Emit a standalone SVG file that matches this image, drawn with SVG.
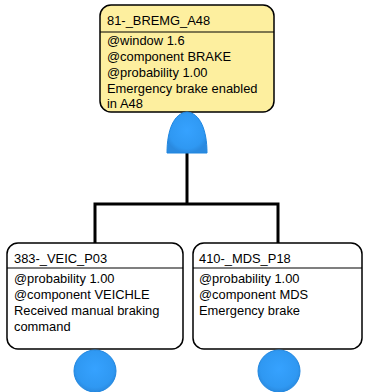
<svg xmlns="http://www.w3.org/2000/svg" width="365" height="392" viewBox="0 0 365 392">
<style>
.box{stroke:#000;stroke-width:1.5}
.sep{stroke:#000;stroke-width:1.2}
.t{font-family:"Liberation Sans",Arial,sans-serif;font-size:12.9px;fill:#000}
.wire{fill:none;stroke:#000;stroke-width:3}
.blue{fill:url(#bg);stroke:#1f86e0;stroke-width:1}
</style>
<defs>
<radialGradient id="bg" cx="50%" cy="45%" r="55%">
<stop offset="0" stop-color="#36a2ff"/>
<stop offset="0.8" stop-color="#2f98f2"/>
<stop offset="1" stop-color="#2a8ae0"/>
</radialGradient>
</defs>
<g id="connectors">
<polyline class="wire" points="187,153 187,204"/>
<polyline class="wire" points="95,243 95,204 278,204 278,243"/>
</g>
<g id="n81">
<rect class="box" x="100" y="5" width="174" height="107" rx="11" fill="#fdef9f"/>
<line class="sep" x1="100" y1="32" x2="274" y2="32"/>
<text class="t" x="107" y="25">81-_BREMG_A48</text>
<text class="t" x="107" y="45">@window 1.6</text>
<text class="t" x="107" y="61">@component BRAKE</text>
<text class="t" x="107" y="77">@probability 1.00</text>
<text class="t" x="107" y="93">Emergency brake enabled</text>
<text class="t" x="107" y="108">in A48</text>
</g>
<g id="gate">
<path class="blue" d="M167,153 L207,153 C207,130 200,113 187,112 C174,113 167,130 167,153 Z"/>
</g>
<g id="n383">
<rect class="box" x="7" y="243" width="176" height="106" rx="11" fill="#fff"/>
<line class="sep" x1="7" y1="268" x2="183" y2="268"/>
<text class="t" x="14" y="263">383-_VEIC_P03</text>
<text class="t" x="14" y="283">@probability 1.00</text>
<text class="t" x="14" y="299">@component VEICHLE</text>
<text class="t" x="14" y="315">Received manual braking</text>
<text class="t" x="14" y="331">command</text>
<circle class="blue" cx="95" cy="371" r="21"/>
</g>
<g id="n410">
<rect class="box" x="193" y="243" width="169" height="106" rx="11" fill="#fff"/>
<line class="sep" x1="193" y1="268" x2="362" y2="268"/>
<text class="t" x="199" y="263">410-_MDS_P18</text>
<text class="t" x="199" y="283">@probability 1.00</text>
<text class="t" x="199" y="299">@component MDS</text>
<text class="t" x="199" y="315">Emergency brake</text>
<circle class="blue" cx="279" cy="371" r="21"/>
</g>
</svg>
